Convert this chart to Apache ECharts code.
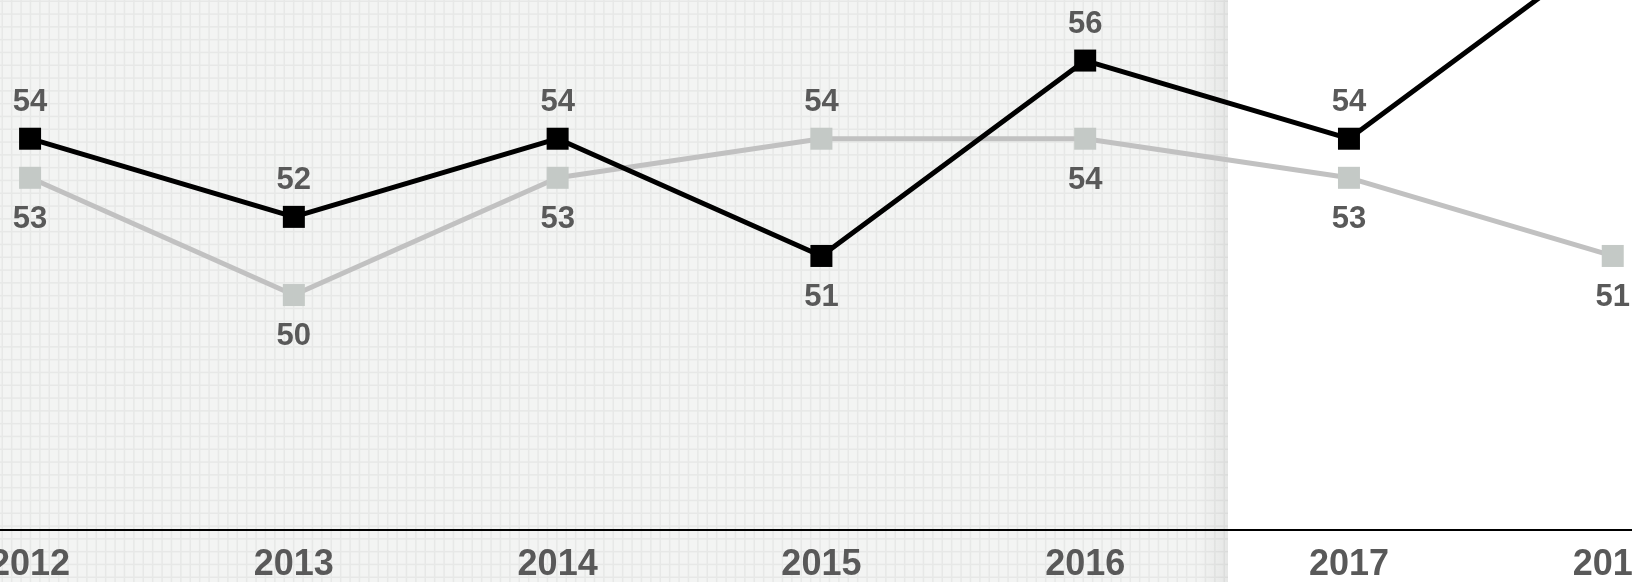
<!DOCTYPE html>
<html>
<head>
<meta charset="utf-8">
<script src="https://cdn.jsdelivr.net/npm/echarts@6/dist/echarts.min.js"></script>
<style>
  html, body { margin: 0; padding: 0; background: #ffffff; }
  #chart { width: 1632px; height: 582px; }
</style>
</head>
<body>
<div id="chart"></div>
<script>
// ---- data ----
const years = [2012, 2013, 2014, 2015, 2016, 2017, 2018];
const blackValues = [54, 52, 54, 51, 56, 54, 59];
const grayValues = [53, 50, 53, 54, 54, 53, 51];

// visible x window (the chart is a crop of a wider one)
const xMin = 2011.886;
const xMax = 2018.073;

// ---- background pattern tile ----
function makeTile() {
  const cw = 9.4, ch = 12.8, n = 5;
  const c = document.createElement('canvas');
  c.width = Math.round(cw * n);
  c.height = Math.round(ch * n);
  const g = c.getContext('2d');
  g.fillStyle = '#f3f4f3';
  g.fillRect(0, 0, c.width, c.height);
  g.fillStyle = '#e7e8e7';
  for (let i = 0; i < n; i++) {
    g.fillRect(i * cw + 1.5, 0, 1.5, c.height);
    g.fillRect(0, i * ch + 0.5, c.width, 1.5);
  }
  return c;
}
const tile = makeTile();

const labelFont = {
  fontFamily: '"Liberation Sans", Arial, Helvetica, sans-serif',
  fontWeight: 'bold',
  color: '#595959'
};

function buildData(vals, other, preferTop) {
  return vals.map((v, i) => {
    const top = preferTop ? v >= other[i] : v > other[i];
    return {
      value: [years[i], v],
      label: { position: top ? 'top' : 'bottom', distance: top ? 10 : 15 }
    };
  });
}

const chart = echarts.init(document.getElementById('chart'), null, { renderer: 'canvas' });
chart.setOption({
  animation: false,
  backgroundColor: '#ffffff',
  graphic: [
    {
      type: 'rect', z: -10, silent: true,
      shape: { x: 0, y: 0, width: 1228, height: 582 },
      style: { fill: { image: tile, repeat: 'repeat' } }
    },
    {
      type: 'rect', z: -9, silent: true,
      shape: { x: 1198, y: 0, width: 30, height: 582 },
      style: {
        fill: new echarts.graphic.LinearGradient(0, 0, 1, 0, [
          { offset: 0, color: 'rgba(0,0,0,0)' },
          { offset: 1, color: 'rgba(0,0,0,0.055)' }
        ])
      }
    }
  ],
  grid: { left: 0, right: 0, top: 0, bottom: 52.5, containLabel: false, outerBoundsMode: 'none' },
  xAxis: {
    type: 'value',
    min: xMin,
    max: xMax,
    axisLine: { show: true, onZero: false, lineStyle: { color: '#000', width: 2 } },
    axisTick: { show: false },
    splitLine: { show: false },
    axisLabel: Object.assign({
      fontSize: 36, margin: 18,
      customValues: years,
      showMinLabel: true, showMaxLabel: true,
      hideOverlap: false,
      formatter: v => String(Math.round(v))
    }, labelFont)
  },
  yAxis: {
    type: 'value',
    min: 44,
    max: 57.55,
    show: false,
    splitLine: { show: false }
  },
  series: [
    {
      name: 'gray',
      type: 'line',
      z: 2,
      data: buildData(grayValues, blackValues, false),
      symbol: 'rect',
      symbolSize: 22,
      lineStyle: { color: '#c1c1c1', width: 5 },
      itemStyle: { color: '#c4c9c6' },
      label: Object.assign({ show: true, fontSize: 31, formatter: p => String(p.value[1]) }, labelFont),
      clip: true
    },
    {
      name: 'black',
      type: 'line',
      z: 3,
      data: buildData(blackValues, grayValues, true),
      symbol: 'rect',
      symbolSize: 22,
      lineStyle: { color: '#000000', width: 5 },
      itemStyle: { color: '#000000' },
      label: Object.assign({ show: true, fontSize: 31, formatter: p => String(p.value[1]) }, labelFont),
      clip: true
    }
  ]
});
</script>
</body>
</html>
